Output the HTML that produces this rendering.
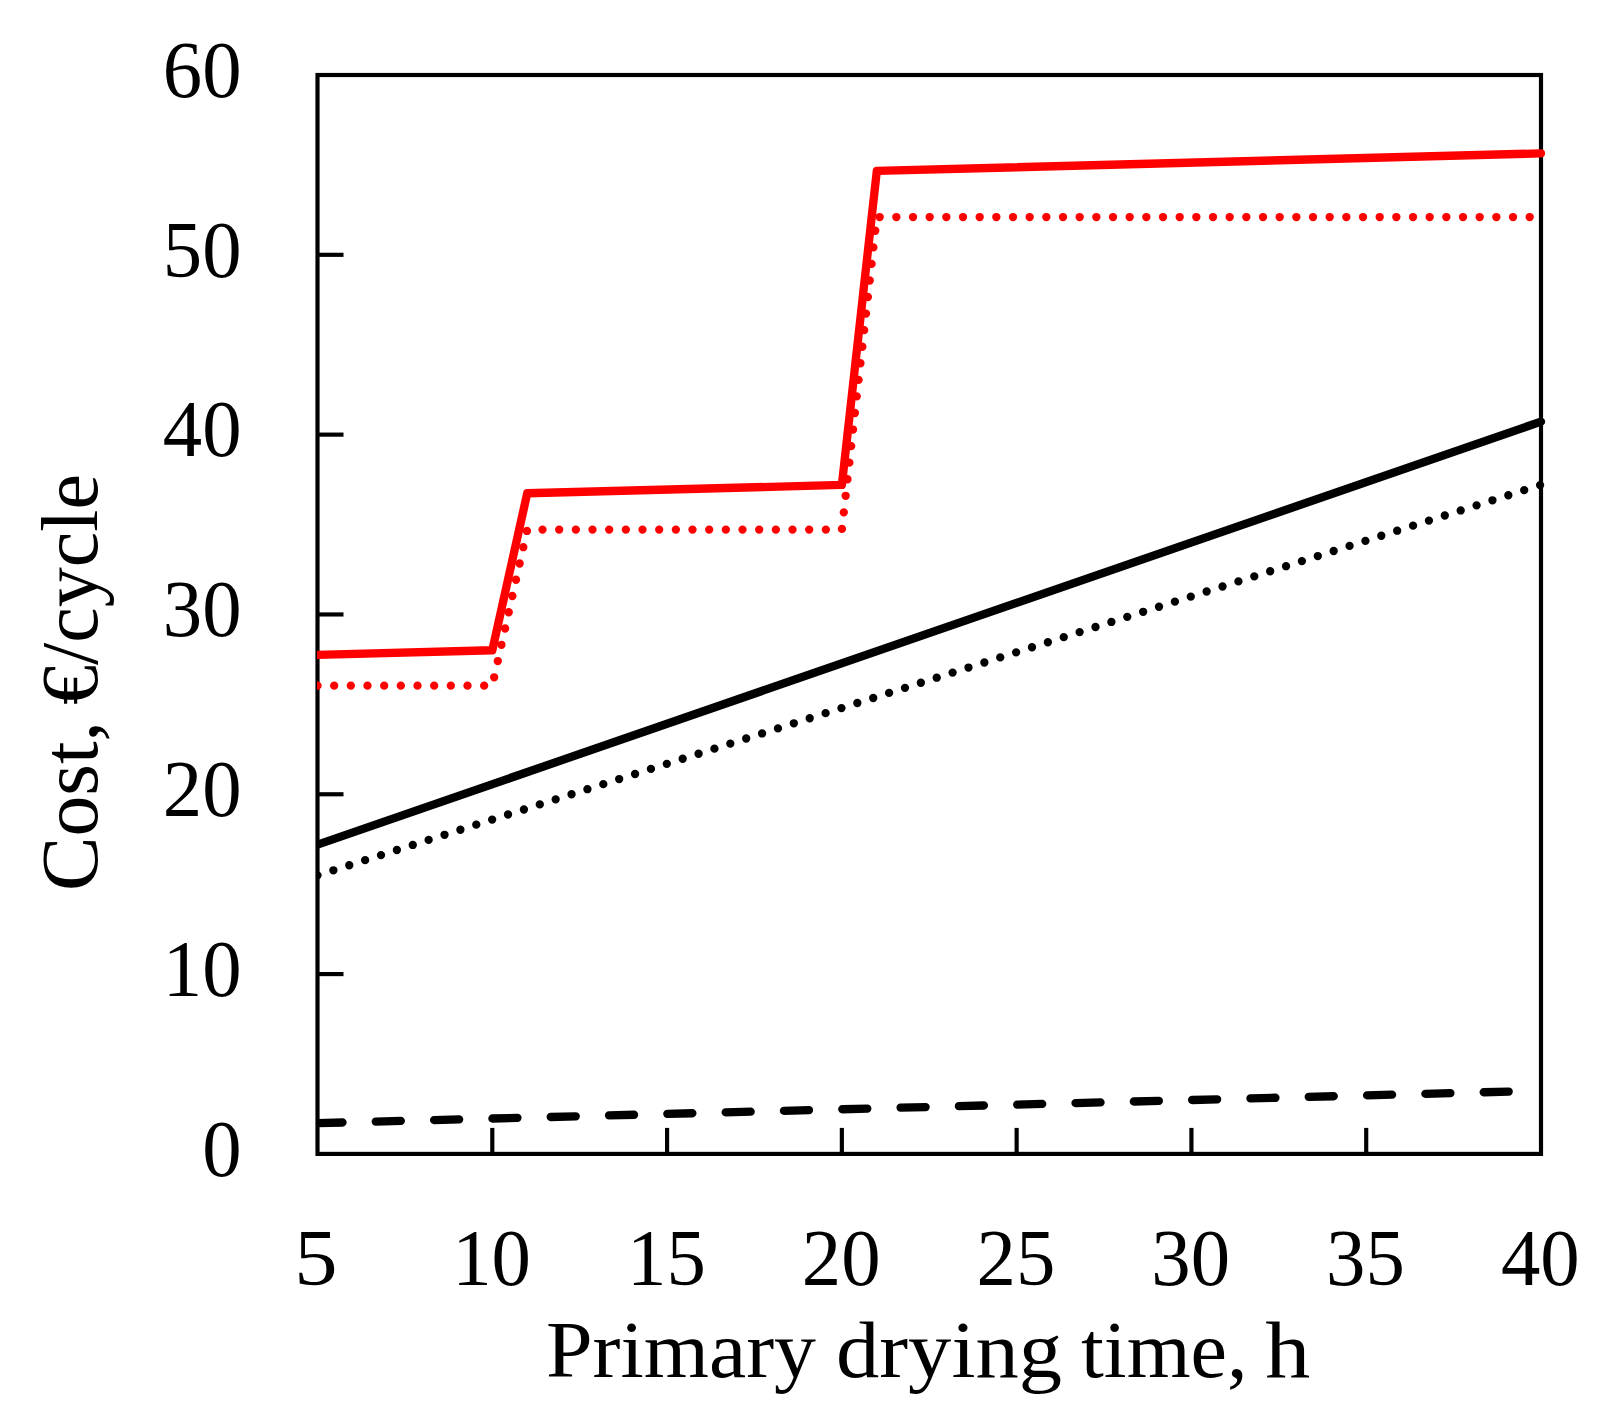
<!DOCTYPE html>
<html lang="en">
<head>
<meta charset="utf-8">
<title>Cost vs primary drying time</title>
<style>
html,body{margin:0;padding:0;background:#fff;}
body{width:1612px;height:1420px;overflow:hidden;}
svg{display:block;}
text{font-family:'Liberation Serif', serif;fill:#000;}
</style>
</head>
<body>
<svg width="1612" height="1420" viewBox="0 0 1612 1420">
<rect x="0" y="0" width="1612" height="1420" fill="#ffffff"/>
<defs><clipPath id="clip"><rect x="317" y="0" width="1295" height="1420"/></clipPath></defs>

<g stroke="#000" stroke-width="4.17" fill="none" stroke-linecap="butt">
<rect x="317.50" y="75.00" width="1223.50" height="1078.90" stroke-linejoin="miter"/>
<line x1="317.50" y1="974.08" x2="343.50" y2="974.08"/>
<line x1="317.50" y1="794.27" x2="343.50" y2="794.27"/>
<line x1="317.50" y1="614.45" x2="343.50" y2="614.45"/>
<line x1="317.50" y1="434.63" x2="343.50" y2="434.63"/>
<line x1="317.50" y1="254.82" x2="343.50" y2="254.82"/>
<line x1="492.29" y1="1153.90" x2="492.29" y2="1127.90"/>
<line x1="667.07" y1="1153.90" x2="667.07" y2="1127.90"/>
<line x1="841.86" y1="1153.90" x2="841.86" y2="1127.90"/>
<line x1="1016.64" y1="1153.90" x2="1016.64" y2="1127.90"/>
<line x1="1191.43" y1="1153.90" x2="1191.43" y2="1127.90"/>
<line x1="1366.21" y1="1153.90" x2="1366.21" y2="1127.90"/>
</g>
<g clip-path="url(#clip)" fill="none" stroke-width="8.33" stroke-linecap="round" stroke-linejoin="round">
<polyline points="317.50,1123.15 1541.00,1090.74" stroke="#000" stroke-dasharray="25 33.33"/>
<polyline points="317.50,875.36 1541.00,484.80" stroke="#000" stroke-dasharray="0 16.667"/>
<polyline points="317.50,844.62 1541.00,421.64" stroke="#000"/>
<polyline points="317.50,685.66 492.29,685.66 527.24,529.58 841.86,529.58 876.81,217.06 1541.00,217.06" stroke="#f00" stroke-dasharray="0 16.667"/>
<polyline points="317.50,654.91 492.29,650.28 527.24,493.27 841.86,484.94 876.81,170.95 1541.00,153.36" stroke="#f00"/>
</g>
<g font-size="80.0px" text-anchor="end">
<text transform="translate(241.6,1175.70) scale(0.985,1)">0</text>
<text transform="translate(241.6,995.88) scale(0.985,1)">10</text>
<text transform="translate(241.6,816.07) scale(0.985,1)">20</text>
<text transform="translate(241.6,636.25) scale(0.985,1)">30</text>
<text transform="translate(241.6,456.43) scale(0.985,1)">40</text>
<text transform="translate(241.6,276.62) scale(0.985,1)">50</text>
<text transform="translate(241.6,96.80) scale(0.985,1)">60</text>
</g>
<g font-size="80.0px" text-anchor="middle">
<text transform="translate(316.00,1285.4) scale(1.084,1)">5</text>
<text transform="translate(491.59,1285.4) scale(0.985,1)">10</text>
<text transform="translate(666.37,1285.4) scale(0.985,1)">15</text>
<text transform="translate(841.16,1285.4) scale(0.985,1)">20</text>
<text transform="translate(1015.94,1285.4) scale(0.985,1)">25</text>
<text transform="translate(1190.73,1285.4) scale(0.985,1)">30</text>
<text transform="translate(1365.51,1285.4) scale(0.985,1)">35</text>
<text transform="translate(1540.30,1285.4) scale(0.985,1)">40</text>
</g>
<text font-size="80.0px" y="1376.5"><tspan x="546" textLength="270" lengthAdjust="spacingAndGlyphs">Primary</tspan> <tspan x="836" textLength="226" lengthAdjust="spacingAndGlyphs">drying</tspan> <tspan x="1081" textLength="166.5" lengthAdjust="spacingAndGlyphs">time,</tspan> <tspan x="1265.3" textLength="45" lengthAdjust="spacingAndGlyphs">h</tspan></text>
<text font-size="80.0px" transform="translate(96.8,891) rotate(-90)"><tspan x="0" textLength="170" lengthAdjust="spacingAndGlyphs">Cost,</tspan> <tspan x="186" textLength="231" lengthAdjust="spacingAndGlyphs">€/cycle</tspan></text>
</svg>
</body>
</html>
